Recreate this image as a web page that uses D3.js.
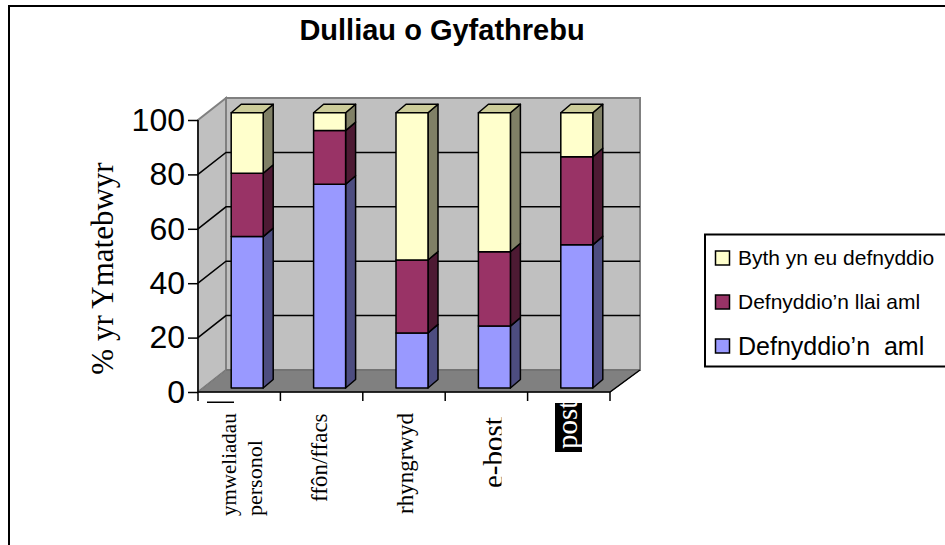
<!DOCTYPE html>
<html><head><meta charset="utf-8"><script src="https://cdn.jsdelivr.net/npm/d3@7"></script>
<style>html,body{margin:0;background:#fff}svg{display:block}</style></head><body><div id="c"></div>
<script>
const categories=[["ymweliadau","personol"],["ffôn/ffacs"],["rhyngrwyd"],["e-bost"],["post"]];
const seriesNames=["Defnyddio’n\u00a0 aml","Defnyddio’n llai aml","Byth yn eu defnyddio"];
const often=[55,74,20,22.5,52];
const lessOften=[23,19.5,26.5,27,32];
const never=[22,6.5,53.5,50.5,16];
const yTicks=[0,20,40,60,80,100];
const fronts=["#9999ff","#993366","#ffffcc"];
const sides=["#4d4d80","#4d1a33","#808066"];
const tops=["#7a7acc","#7a2952","#cccc99"];
const svg=d3.select("#c").append("svg").attr("width",945).attr("height",545);
const W=610,L=198;
const x=d3.scaleBand().domain(d3.range(5)).range([L,W]);
const y=d3.scaleLinear().domain([0,100]).range([392,120]);
const dx=28,dy=-22;
const line=d3.line();
svg.append("path").attr("d","M9,545V6H945").attr("fill","none").attr("stroke","#000").attr("stroke-width",2);
svg.append("text").attr("x",442).attr("y",40).attr("text-anchor","middle").attr("font-family","Liberation Sans").attr("font-weight","bold").attr("font-size",29).text("Dulliau o Gyfathrebu");
// walls
svg.append("path").attr("d",line([[L,y(0)],[L,y(100)],[L+dx,y(100)+dy],[L+dx,y(0)+dy]])+"Z").attr("fill","#c0c0c0").attr("stroke","#808080").attr("stroke-width",2);
svg.append("path").attr("d",line([[L+dx,y(100)+dy],[W+dx+2,y(100)+dy],[W+dx+2,y(0)+dy],[L+dx,y(0)+dy]])+"Z").attr("fill","#c0c0c0").attr("stroke","#808080").attr("stroke-width",2);
svg.append("path").attr("d",line([[L,y(0)],[L+dx,y(0)+dy],[W+dx+2,y(0)+dy],[W,y(0)]])+"Z").attr("fill","#808080").attr("stroke","#666").attr("stroke-width",1);
yTicks.filter(t=>t>0&&t<100).forEach(t=>{
 svg.append("path").attr("d",line([[L,y(t)],[L+dx,y(t)+dy],[W+dx+2,y(t)+dy]])).attr("fill","none").attr("stroke","#000").attr("stroke-width",1.5);
});
svg.append("path").attr("d",line([[L,y(0)],[L+dx,y(0)+dy]])).attr("stroke","#808080");
// axes
svg.append("path").attr("d",`M${L},${y(100)}V${y(0)}H${W}L${W+dx+2},${y(0)+dy}`).attr("fill","none").attr("stroke","#000").attr("stroke-width",1.5);
const ya=svg.append("g").attr("transform",`translate(${L},0)`).call(d3.axisLeft(y).tickValues(yTicks).tickSize(10).tickPadding(3));
ya.select(".domain").remove();
ya.selectAll("line").attr("stroke-width",1.5);
ya.selectAll("text").attr("font-family","Liberation Sans").attr("font-size",32).attr("fill","#000");
const xa=svg.append("g").attr("transform",`translate(0,${y(0)})`);
d3.range(6).forEach(i=>xa.append("line").attr("x1",L+i*x.step()).attr("x2",L+i*x.step()).attr("y1",0).attr("y2",9).attr("stroke","#000").attr("stroke-width",1.5));
// bars
const by=d3.scaleLinear().domain([0,100]).range([388,112.7]);
const bw=32,bdx=10,bdy=-8.5;
const stacks=d3.stack().keys([0,1,2]).value((d,k)=>d[k])(d3.range(5).map(i=>[often[i],lessOften[i],never[i]]));
stacks.forEach((s,k)=>{
 s.forEach((d,i)=>{
  const x0=x(i)+x.bandwidth()/2-8, x1=x0+bw, yb=by(d[0]), yt=by(d[1]);
  const g=svg.append("g").attr("stroke","#000").attr("stroke-width",1.5).attr("stroke-linejoin","round");
  g.append("path").attr("d",line([[x1,yb],[x1,yt],[x1+bdx,yt+bdy],[x1+bdx,yb+bdy]])+"Z").attr("fill",sides[k]);
  if(k===2) g.append("path").attr("d",line([[x0,yt],[x0+bdx,yt+bdy],[x1+bdx,yt+bdy],[x1,yt]])+"Z").attr("fill",tops[k]);
  g.append("rect").attr("x",x0).attr("y",yt).attr("width",bw).attr("height",yb-yt).attr("fill",fronts[k]);
 });
});
// y title
svg.append("text").attr("transform","translate(113,268.5) rotate(-90)").attr("text-anchor","middle").attr("font-family","Liberation Serif").attr("font-size",31).text("% yr Ymatebwyr");
// x labels
const defs=svg.append("defs");
defs.append("clipPath").attr("id","cb").append("rect").attr("x",470).attr("y",400).attr("width",31.5).attr("height",100);
svg.append("rect").attr("x",207).attr("y",401.5).attr("width",27).attr("height",1.5).attr("fill","#000");
const lab=(par,cx,yy,t,fs,fill)=>par.append("text").attr("transform",`translate(${cx},${yy}) rotate(-90)`).attr("text-anchor","start").attr("font-family","Liberation Serif").attr("font-size",fs).attr("fill",fill||"#000").text(t);
lab(svg,236,516,categories[0][0],21);
lab(svg,262,516,categories[0][1],22);
lab(svg,327,502,categories[1][0],23);
lab(svg,413,514,categories[2][0],23);
lab(svg.append("g").attr("clip-path","url(#cb)"),502.5,488,categories[3][0],29);
svg.append("rect").attr("x",555).attr("y",403).attr("width",27).attr("height",49).attr("fill","#000");
lab(svg,577,449,categories[4][0],29,"#fff");
// legend
svg.append("rect").attr("x",705).attr("y",234.5).attr("width",245).attr("height",132).attr("fill","#fff").attr("stroke","#000").attr("stroke-width",2);
const leg=[{k:2,y:258,fs:21},{k:1,y:302,fs:21},{k:0,y:346,fs:25}];
leg.forEach(l=>{
 svg.append("rect").attr("x",715.5).attr("y",l.y-7).attr("width",14).attr("height",14).attr("fill",fronts[l.k]).attr("stroke","#000").attr("stroke-width",1.5);
 svg.append("text").attr("x",738).attr("y",l.y+l.fs*0.34).attr("font-family","Liberation Sans").attr("font-size",l.fs).text(seriesNames[l.k]);
});
</script></body></html>
